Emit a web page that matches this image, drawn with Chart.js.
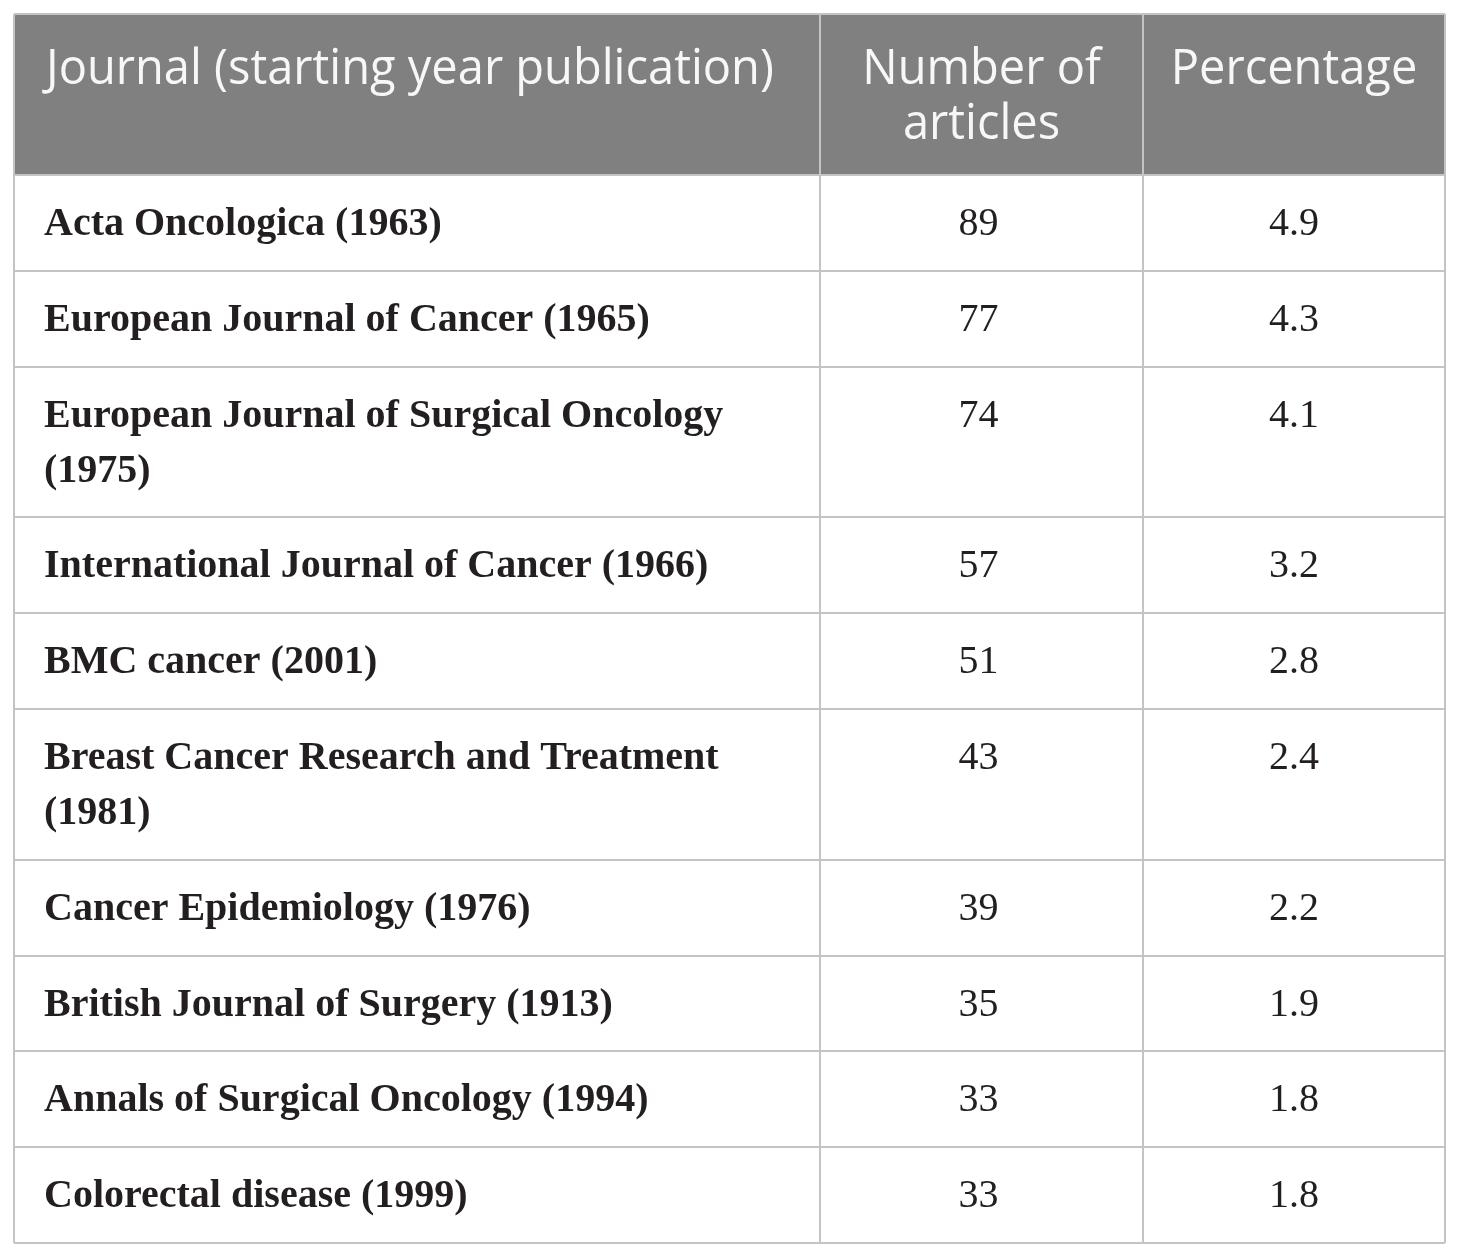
<!DOCTYPE html>
<html><head><meta charset="utf-8">
<script src="https://cdn.jsdelivr.net/npm/chart.js@4.4.1/dist/chart.umd.min.js"></script>
<style>html,body{margin:0;padding:0;background:#fff}#wrap{width:1460px;height:1258px;position:relative}</style>
</head><body><div id="wrap"><canvas id="c"></canvas></div>
<script>
// ---- data ----
const headers = ["Journal (starting year publication)", "Number of articles", "Percentage"];
const journals = [
  "Acta Oncologica (1963)",
  "European Journal of Cancer (1965)",
  "European Journal of Surgical Oncology (1975)",
  "International Journal of Cancer (1966)",
  "BMC cancer (2001)",
  "Breast Cancer Research and Treatment (1981)",
  "Cancer Epidemiology (1976)",
  "British Journal of Surgery (1913)",
  "Annals of Surgical Oncology (1994)",
  "Colorectal disease (1999)"
];
const articles = [89, 77, 74, 57, 51, 43, 39, 35, 33, 33];
const percentages = [4.9, 4.3, 4.1, 3.2, 2.8, 2.4, 2.2, 1.9, 1.8, 1.8];

// ---- style / layout ----
const colEdges = [0, 806, 1129, 1431];           // in x-scale units
const headFont = '400 49px "Open Sans"';
const headSqueeze = 0.96;
const bodyBold = 'bold 40px "Liberation Serif"';
const bodyReg = '40px "Liberation Serif"';
const padX = 30, lineH = 55, headPadTop = 70, bodyPadTop = 60;
const headRowPad = 51, bodyRowPad = 40.8;

const mctx = document.createElement('canvas').getContext('2d');
function wrap(text, font, maxW, squeeze) {
  mctx.font = font;
  const words = text.split(' ');
  const lines = []; let cur = '';
  for (const w of words) {
    const t = cur ? cur + ' ' + w : w;
    if (mctx.measureText(t).width * (squeeze || 1) > maxW && cur) { lines.push(cur); cur = w; }
    else cur = t;
  }
  if (cur) lines.push(cur);
  return lines;
}
const headLines = headers.map((h, i) => wrap(h, headFont, colEdges[i+1]-colEdges[i]-2*padX, headSqueeze));
const headH = headRowPad + lineH * Math.max(...headLines.map(l => l.length));
const rowLines = journals.map(j => wrap(j, bodyBold, colEdges[1]-colEdges[0]-2*padX));
const rowH = rowLines.map(l => bodyRowPad + lineH * l.length);
const rowTop = []; let acc = headH;
rowH.forEach(h => { rowTop.push(acc); acc += h; });
const totalH = acc;

const tablePlugin = {
  id: 'table',
  afterDraw(chart) {
    const ctx = chart.ctx, xs = chart.scales.x, ys = chart.scales.y;
    const X = v => xs.getPixelForValue(v), Y = v => ys.getPixelForValue(v);
    ctx.save();
    // header background
    ctx.fillStyle = '#808080';
    ctx.fillRect(X(0), Y(0), X(colEdges[3]) - X(0), Y(headH) - Y(0));
    // grid lines
    ctx.strokeStyle = '#c4c4c4'; ctx.lineWidth = 2;
    ctx.beginPath();
    [0].concat(rowTop).concat([totalH]).forEach(v => {
      const y = Math.round(Y(v)); ctx.moveTo(X(0), y); ctx.lineTo(X(colEdges[3]), y);
    });
    colEdges.forEach(c => { const x = Math.round(X(c)); ctx.moveTo(x, Y(0)); ctx.lineTo(x, Y(totalH)); });
    ctx.stroke();
    // header text
    ctx.fillStyle = '#f7f7f7'; ctx.font = headFont; ctx.textBaseline = 'alphabetic';
    headLines.forEach((lines, i) => {
      lines.forEach((ln, k) => {
        const w = ctx.measureText(ln).width * headSqueeze;
        let x = i === 0 ? X(colEdges[0] + padX + 2) : (X(colEdges[i]) + X(colEdges[i+1])) / 2 - w / 2;
        const y = Y(headPadTop + k * lineH);
        ctx.save(); ctx.translate(x, y); ctx.scale(headSqueeze, 1); ctx.fillText(ln, 0, 0); ctx.restore();
      });
    });
    // body
    ctx.fillStyle = '#231f20';
    journals.forEach((j, r) => {
      ctx.font = bodyBold; ctx.textAlign = 'left';
      rowLines[r].forEach((ln, k) => ctx.fillText(ln, X(colEdges[0] + padX), Y(rowTop[r] + bodyPadTop + k * lineH)));
      ctx.font = bodyReg; ctx.textAlign = 'center';
      const yb = Y(rowTop[r] + bodyPadTop);
      ctx.fillText(String(articles[r]), (X(colEdges[1]) + X(colEdges[2])) / 2 - 3, yb);
      ctx.fillText(percentages[r].toFixed(1), (X(colEdges[2]) + X(colEdges[3])) / 2, yb);
    });
    ctx.restore();
  }
};

new Chart(document.getElementById('c'), {
  type: 'scatter',
  data: { datasets: [{ data: [] }] },
  options: {
    responsive: true, maintainAspectRatio: false, animation: false,
    layout: { padding: { left: 14, top: 14, right: 15, bottom: 1258 - 14 - totalH } },
    scales: {
      x: { type: 'linear', min: 0, max: colEdges[3], display: false },
      y: { type: 'linear', min: 0, max: totalH, reverse: true, display: false }
    },
    plugins: { legend: { display: false }, tooltip: { enabled: false } }
  },
  plugins: [tablePlugin]
});
</script></body></html>
